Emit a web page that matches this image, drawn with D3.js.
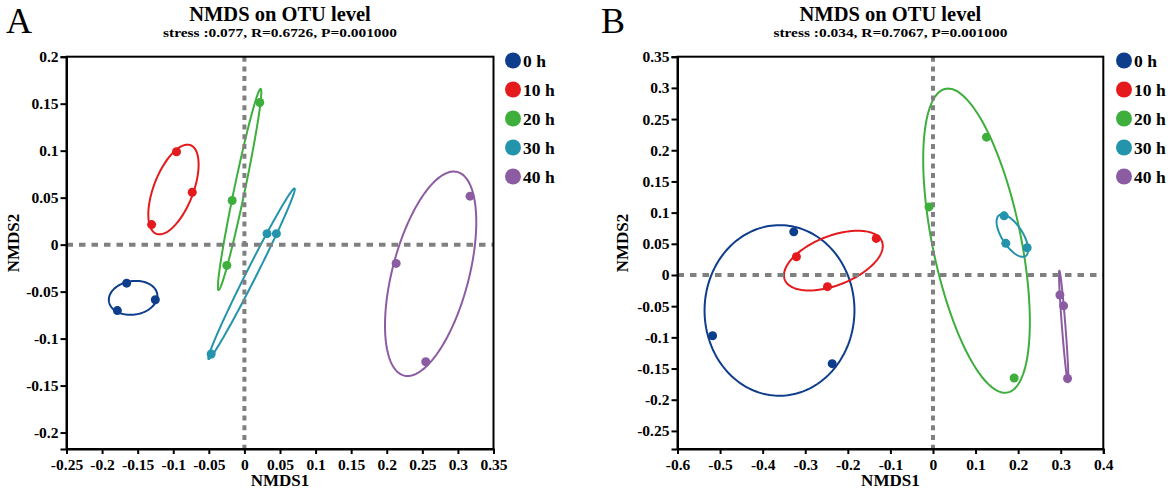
<!DOCTYPE html>
<html lang="en">
<head>
    <meta charset="UTF-8">
    <title>NMDS on OTU level</title>
    <script src="https://cdn.jsdelivr.net/npm/d3@7/dist/d3.min.js"></script>
    <style>
        body { margin: 0; background: #fff; }
        text { font-family: "Liberation Serif", "Times New Roman", serif; }
    </style>
</head>
<body>
    <script>
        const groups = ['0 h', '10 h', '20 h', '30 h', '40 h'];
        const colors = ['#0e3d8c', '#e41a1c', '#3eae3c', '#2394ab', '#8c5ca3'];

        // panel A, three samples per group
        const aNMDS1 = [
            [-0.1655, -0.1785, -0.1252],
            [-0.0954, -0.0733, -0.1304],
            [0.0216, -0.0172, -0.0247],
            [-0.0467, 0.0318, 0.0449],
            [0.317, 0.2132, 0.2548]
        ];
        const aNMDS2 = [
            [-0.041, -0.0702, -0.0587],
            [0.0989, 0.0558, 0.0213],
            [0.1512, 0.047, -0.0221],
            [-0.1164, 0.0117, 0.0117],
            [0.0516, -0.020, -0.1246]
        ];
        // panel B
        const bNMDS1 = [
            [-0.327, -0.5176, -0.2367],
            [-0.3207, -0.1332, -0.2478],
            [0.1256, -0.0094, 0.1906],
            [0.167, 0.171, 0.2212],
            [0.2981, 0.3068, 0.316]
        ];
        const bNMDS2 = [
            [0.0692, -0.0975, -0.1422],
            [0.0293, 0.0586, -0.0187],
            [0.221, 0.1092, -0.1651],
            [0.0948, 0.0507, 0.0437],
            [-0.032, -0.0495, -0.166]
        ];

        const aXTicks = [-0.25, -0.2, -0.15, -0.1, -0.05, 0, 0.05, 0.1, 0.15, 0.2, 0.25, 0.3, 0.35];
        const aYTicks = [-0.2, -0.15, -0.1, -0.05, 0, 0.05, 0.1, 0.15, 0.2];
        const bXTicks = [-0.6, -0.5, -0.4, -0.3, -0.2, -0.1, 0, 0.1, 0.2, 0.3, 0.4];
        const bYTicks = [-0.25, -0.2, -0.15, -0.1, -0.05, 0, 0.05, 0.1, 0.15, 0.2, 0.25, 0.3, 0.35];

        const panels = [
            {letter: 'A', stats: 'stress :0.077, R=0.6726, P=0.001000', xs: aNMDS1, ys: aNMDS2,
             xDomain: [-0.25, 0.35], yDomain: [-0.2175, 0.2], xTicks: aXTicks, yTicks: aYTicks,
             left: 66.5, right: 493.5, letterX: 6, yLabelX: 19, legendX: 513},
            {letter: 'B', stats: 'stress :0.034, R=0.7067, P=0.001000', xs: bNMDS1, ys: bNMDS2,
             xDomain: [-0.6, 0.4], yDomain: [-0.279, 0.35], xTicks: bXTicks, yTicks: bYTicks,
             left: 677.5, right: 1103.3, letterX: 601, yLabelX: 628, legendX: 1124}
        ];
        const plotTop = 56.7, plotBottom = 449;
        const ellipseScale = 1.063;

        const svg = d3.select('body').append('svg').attr('width', 1170).attr('height', 490);
        const fmt = v => String(+v.toFixed(2));

        panels.forEach(p => {
            const x = d3.scaleLinear().domain(p.xDomain).range([p.left, p.right]);
            const y = d3.scaleLinear().domain(p.yDomain).range([plotBottom, plotTop]);
            const g = svg.append('g');
            const cx = (p.left + p.right) / 2;

            // titles
            g.append('text').attr('x', p.letterX).attr('y', 33).attr('font-size', 36).text(p.letter);
            g.append('text').attr('x', cx).attr('y', 21).attr('text-anchor', 'middle')
                .attr('font-size', 20.5).attr('font-weight', 'bold').text('NMDS on OTU level');
            g.append('text').attr('x', cx).attr('y', 37).attr('text-anchor', 'middle')
                .attr('font-size', 13).attr('font-weight', 'bold')
                .attr('textLength', 234).attr('lengthAdjust', 'spacingAndGlyphs').text(p.stats);

            // ellipse around the three samples of each group (centred on their mean)
            const line = d3.line().x(d => x(d[0])).y(d => y(d[1])).curve(d3.curveLinearClosed);
            p.xs.forEach((gx, i) => {
                const gy = p.ys[i];
                const mx = d3.mean(gx), my = d3.mean(gy);
                const ux = (gx[0] - mx) * ellipseScale, uy = (gy[0] - my) * ellipseScale;
                const vx = (gx[1] - gx[2]) / Math.sqrt(3) * ellipseScale;
                const vy = (gy[1] - gy[2]) / Math.sqrt(3) * ellipseScale;
                const pts = d3.range(0, 360, 2).map(a => {
                    const t = a * Math.PI / 180;
                    return [mx + Math.cos(t) * ux + Math.sin(t) * vx, my + Math.cos(t) * uy + Math.sin(t) * vy];
                });
                g.append('path').attr('d', line(pts)).attr('fill', 'none')
                    .attr('stroke', colors[i]).attr('stroke-width', 2);
            });

            // zero reference lines
            g.append('line').attr('x1', x(0)).attr('x2', x(0)).attr('y1', plotTop).attr('y2', plotBottom)
                .attr('stroke', '#808080').attr('stroke-width', 4).attr('stroke-dasharray', '5,4.7');
            g.append('line').attr('x1', p.left).attr('x2', p.right).attr('y1', y(0)).attr('y2', y(0))
                .attr('stroke', '#808080').attr('stroke-width', 4).attr('stroke-dasharray', '6.5,6');

            // samples
            p.xs.forEach((gx, i) => {
                g.selectAll(null).data(gx.map((v, j) => [v, p.ys[i][j]])).enter().append('circle')
                    .attr('cx', d => x(d[0])).attr('cy', d => y(d[1])).attr('r', 4.5)
                    .attr('fill', colors[i]);
            });

            // frame and axes
            g.append('rect').attr('x', p.left).attr('y', plotTop).attr('width', p.right - p.left)
                .attr('height', plotBottom - plotTop).attr('fill', 'none').attr('stroke', '#000').attr('stroke-width', 2);
            const xAxis = g.append('g').attr('transform', `translate(0,${plotBottom})`)
                .call(d3.axisBottom(x).tickValues(p.xTicks).tickFormat(fmt).tickSize(5).tickPadding(2));
            const yAxis = g.append('g').attr('transform', `translate(${p.left},0)`)
                .call(d3.axisLeft(y).tickValues(p.yTicks).tickFormat(fmt).tickSize(6).tickPadding(2));
            [xAxis, yAxis].forEach(a => {
                a.select('.domain').attr('stroke-width', 2);
                a.selectAll('.tick line').attr('stroke-width', 2);
                a.selectAll('.tick text').attr('font-size', 15.5).attr('font-weight', 'bold')
                    .attr('fill', '#000').style('font-family', '"Liberation Serif", serif');
            });
            xAxis.selectAll('.tick text').attr('dy', '0.9em');
            g.append('text').attr('x', cx).attr('y', 486).attr('text-anchor', 'middle')
                .attr('font-size', 17).attr('font-weight', 'bold').text('NMDS1');
            g.append('text').attr('transform', `translate(${p.yLabelX},243) rotate(-90)`)
                .attr('text-anchor', 'middle').attr('font-size', 17).attr('font-weight', 'bold').text('NMDS2');

            // legend
            groups.forEach((name, i) => {
                const ly = 60.5 + i * 29;
                g.append('circle').attr('cx', p.legendX).attr('cy', ly).attr('r', 8).attr('fill', colors[i]);
                g.append('text').attr('x', p.legendX + 10).attr('y', ly + 6)
                    .attr('font-size', 17.5).attr('font-weight', 'bold').text(name);
            });
        });
    </script>
</body>
</html>
